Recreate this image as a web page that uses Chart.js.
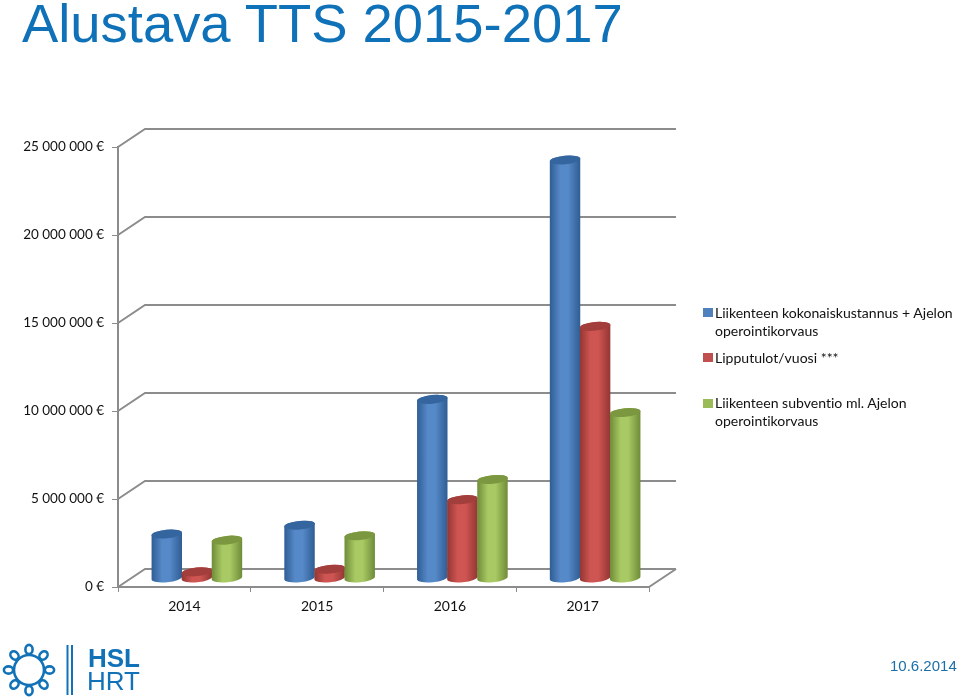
<!DOCTYPE html>
<html lang="fi"><head><meta charset="utf-8">
<script src="https://cdn.jsdelivr.net/npm/chart.js@4"></script>
<style>
html,body{margin:0;padding:0;background:#fff;width:960px;height:700px;overflow:hidden}
#wrap{position:relative;width:960px;height:700px}
canvas{position:absolute;left:0;top:0}
.t{position:absolute;white-space:nowrap}
#title{left:22px;top:-6px;font:54.4px/60px "Liberation Sans",sans-serif;color:#0f71b7}
#date{left:890px;top:657px;font:15px/18px "Liberation Sans",sans-serif;color:#1a6fa8}
.lg{position:absolute;left:715px;font:14.05px/18px Lato,sans-serif;font-variant-ligatures:none;color:#111;white-space:nowrap}
.sw{position:absolute;left:703px;width:10px;height:9px}
#hsl{left:88px;top:644px;font:bold 26px/28px "Liberation Sans",sans-serif;color:#1272b8}
#hrt{left:87px;top:667px;font:26px/28px "Liberation Sans",sans-serif;color:#1272b8}
svg{position:absolute;left:0;top:640px}
</style></head><body><div id="wrap">
<canvas id="c" width="960" height="700"></canvas>
<div class="t" id="title"></div>
<div class="t" id="date"></div>
<div id="legend"></div>
<svg width="80" height="60" viewBox="0 0 80 60" fill="none" stroke="#1272b8" stroke-width="2.6">
<circle cx="29" cy="30" r="15"/>
<g id="loops"></g>
<path d="M67.5 5V55M72 5V55" stroke-width="2"/>
</svg>
<div class="t" id="hsl">HSL</div>
<div class="t" id="hrt">HRT</div>
</div>
<script>
const titleText = "Alustava TTS 2015-2017";
const dateText = "10.6.2014";
const categories = ["2014","2015","2016","2017"];
const totalCost = [2500000,3000000,10150000,23750000];
const ticketRevenue = [350000,500000,4450000,14300000];
const subsidy = [2150000,2400000,5600000,9400000];
const seriesNames = ["Liikenteen kokonaiskustannus + Ajelon operointikorvaus","Lipputulot/vuosi ***","Liikenteen subventio ml. Ajelon operointikorvaus"];
const seriesLines = [["Liikenteen kokonaiskustannus + Ajelon","operointikorvaus"],["Lipputulot/vuosi ***"],["Liikenteen subventio ml. Ajelon","operointikorvaus"]];
const seriesColors = ["#4f81bd","#c0504d","#9bbb59"];
const shades = [["#2f5d94","#5689c8","#34659f"],["#923633","#cf5552","#a23e3b"],["#6f8b38","#a8c963","#7b9740"]];

document.getElementById("title").textContent = titleText;
document.getElementById("date").textContent = dateText;

const legendTops = [[304,322],[349],[394,412]];
const swatchTops = [308,353,399];
const lg = document.getElementById("legend");
seriesLines.forEach((lines,i)=>{
  const s=document.createElement("div");s.className="sw";s.style.top=swatchTops[i]+"px";s.style.background=seriesColors[i];lg.appendChild(s);
  lines.forEach((l,j)=>{const d=document.createElement("div");d.className="lg";d.style.top=legendTops[i][j]+"px";d.textContent=l;lg.appendChild(d);});
});
const loops=document.getElementById("loops");
let h="";
for(let k=0;k<8;k++){const a=k*Math.PI/4-Math.PI/2;const x=29+20.5*Math.cos(a),y=30+20.5*Math.sin(a);
 h+=`<ellipse cx="${x.toFixed(1)}" cy="${y.toFixed(1)}" rx="4.6" ry="3.6" transform="rotate(${k*45-90} ${x.toFixed(1)} ${y.toFixed(1)})" fill="#fff"/>`;}
loops.innerHTML=h;

const DX=27, DY=-18;
const wallPlugin={id:"wall",
 beforeDatasetsDraw(chart){
  const {ctx,scales:{x,y}}=chart;const l=x.left,r=x.right;
  ctx.save();ctx.strokeStyle="#8c8c8c";ctx.lineWidth=2;
  y.ticks.forEach(t=>{const p=y.getPixelForValue(t.value);
    ctx.beginPath();ctx.moveTo(l,p);ctx.lineTo(l+DX,p+DY);ctx.lineTo(r+DX,p+DY);ctx.stroke();});
  const p0=y.getPixelForValue(0);
  ctx.beginPath();ctx.moveTo(r,p0);ctx.lineTo(r+DX,p0+DY);ctx.stroke();
  ctx.restore();
  const y0=p0+DY/2;
  chart.data.datasets.forEach((ds,i)=>{
    chart.getDatasetMeta(i).data.forEach(el=>{
      const cx=el.x+12.5, w=el.width+0.5, top=el.y+DY/2;
      cylinder(ctx,cx,w,top,y0,shades[i]);
    });
  });
 },
 beforeDatasetDraw(){return false;}
};
function cylinder(ctx,cx,w,top,base,sh){
  const rx=w/2, ry=4.3, rot=-0.1;
  const g=ctx.createLinearGradient(cx-rx,0,cx+rx,0);
  g.addColorStop(0,sh[0]);g.addColorStop(.35,sh[1]);g.addColorStop(.6,sh[1]);g.addColorStop(1,sh[0]);
  ctx.save();
  ctx.fillStyle=g;
  ctx.beginPath();
  ctx.ellipse(cx,base,rx,ry,rot,Math.PI,0,true);
  ctx.ellipse(cx,top,rx,ry,rot,0,Math.PI,true);
  ctx.closePath();ctx.fill();
  ctx.fillStyle=sh[2];
  ctx.beginPath();ctx.ellipse(cx,top,rx,ry,rot,0,Math.PI*2);ctx.fill();
  ctx.restore();
}
new Chart(document.getElementById("c"),{
 type:"bar",
 data:{labels:categories,datasets:[
  {label:seriesNames[0],data:totalCost,backgroundColor:seriesColors[0]},
  {label:seriesNames[1],data:ticketRevenue,backgroundColor:seriesColors[1]},
  {label:seriesNames[2],data:subsidy,backgroundColor:seriesColors[2]}]},
 plugins:[wallPlugin],
 options:{responsive:false,animation:false,
  layout:{padding:{left:0,right:311,top:147,bottom:0}},
  plugins:{legend:{display:false},title:{display:false},tooltip:{enabled:false}},
  datasets:{bar:{categoryPercentage:0.68,barPercentage:1}},
  scales:{
   x:{afterFit(s){s.height=113;},
      grid:{drawOnChartArea:false,drawTicks:true,tickLength:5,color:"#8c8c8c",lineWidth:1},
      border:{display:true,color:"#8c8c8c",width:2},
      ticks:{color:"#111",padding:6,font:{family:"Lato",size:14}}},
   y:{min:0,max:25000000,afterFit(s){s.width=118;},
      grid:{drawOnChartArea:false,drawTicks:true,tickLength:6,color:"#8c8c8c",lineWidth:1},
      border:{display:true,color:"#8c8c8c",width:2},
      ticks:{stepSize:5000000,color:"#111",padding:8,font:{family:"Lato",size:13.5},
        callback:v=>String(v).replace(/\B(?=(\d{3})+(?!\d))/g," ")+" €"}}
  }}
});
</script></body></html>
